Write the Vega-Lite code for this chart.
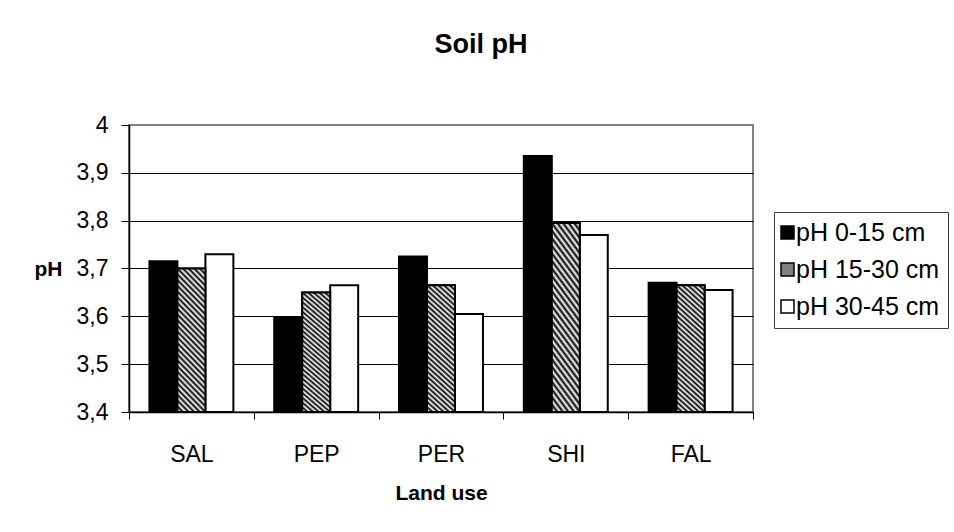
{
  "$schema": "https://vega.github.io/schema/vega-lite/v6.json",
  "autosize": {"type": "none"},
  "width": 624,
  "height": 287,
  "padding": {"left": 129, "top": 125, "right": 201, "bottom": 120},
  "background": "#ffffff",
  "title": {
    "text": "Soil pH",
    "anchor": "middle",
    "frame": "group",
    "dx": 40,
    "offset": 55,
    "font": "Liberation Sans",
    "fontSize": 27,
    "fontWeight": "bold",
    "color": "#000000"
  },
  "data": {
    "values": [
      {"landuse": "SAL", "depth": "pH 0-15 cm", "ph": 3.715},
      {"landuse": "SAL", "depth": "pH 15-30 cm", "ph": 3.70},
      {"landuse": "SAL", "depth": "pH 30-45 cm", "ph": 3.73},
      {"landuse": "PEP", "depth": "pH 0-15 cm", "ph": 3.597},
      {"landuse": "PEP", "depth": "pH 15-30 cm", "ph": 3.65},
      {"landuse": "PEP", "depth": "pH 30-45 cm", "ph": 3.665},
      {"landuse": "PER", "depth": "pH 0-15 cm", "ph": 3.725},
      {"landuse": "PER", "depth": "pH 15-30 cm", "ph": 3.665},
      {"landuse": "PER", "depth": "pH 30-45 cm", "ph": 3.605},
      {"landuse": "SHI", "depth": "pH 0-15 cm", "ph": 3.935},
      {"landuse": "SHI", "depth": "pH 15-30 cm", "ph": 3.795},
      {"landuse": "SHI", "depth": "pH 30-45 cm", "ph": 3.77},
      {"landuse": "FAL", "depth": "pH 0-15 cm", "ph": 3.67},
      {"landuse": "FAL", "depth": "pH 15-30 cm", "ph": 3.665},
      {"landuse": "FAL", "depth": "pH 30-45 cm", "ph": 3.655}
    ]
  },
  "encoding": {
    "x": {
      "field": "landuse",
      "type": "nominal",
      "sort": ["SAL", "PEP", "PER", "SHI", "FAL"],
      "scale": {"paddingInner": 0, "paddingOuter": 0},
      "axis": {
        "title": "Land use",
        "labelAngle": 0,
        "tickBand": "extent",
        "domainColor": "#000000",
        "domainWidth": 1.5,
        "tickColor": "#000000",
        "tickWidth": 1,
        "tickSize": 7,
        "labelPadding": 24,
        "labelFont": "Liberation Sans",
        "labelFontSize": 23,
        "labelColor": "#000000",
        "titleFont": "Liberation Sans",
        "titleFontSize": 21,
        "titleFontWeight": "bold",
        "titleColor": "#000000",
        "titleBaseline": "top",
        "titleY": 70
      }
    },
    "xOffset": {
      "field": "depth",
      "type": "nominal",
      "sort": ["pH 0-15 cm", "pH 15-30 cm", "pH 30-45 cm"],
      "scale": {"paddingInner": 0, "paddingOuter": 0.73}
    },
    "y": {
      "field": "ph",
      "type": "quantitative",
      "scale": {"domain": [3.4, 4], "nice": false, "zero": false},
      "axis": {
        "title": "pH",
        "values": [3.4, 3.5, 3.6, 3.7, 3.8, 3.9, 4],
        "format": ".2~f",
        "labelExpr": "replace(datum.label, '.', ',')",
        "grid": true,
        "gridColor": {"condition": {"test": "datum.value >= 4", "value": "#808080"}, "value": "#000000"},
        "gridWidth": 1,
        "domainColor": "#000000",
        "domainWidth": 1.5,
        "tickColor": "#000000",
        "tickSize": 8,
        "labelPadding": 13,
        "labelFont": "Liberation Sans",
        "labelFontSize": 23,
        "labelColor": "#000000",
        "titleFont": "Liberation Sans",
        "titleFontSize": 21,
        "titleFontWeight": "bold",
        "titleColor": "#000000",
        "titleAngle": 0,
        "titleAlign": "right",
        "titleBaseline": "middle",
        "titleX": -67,
        "titleY": 144
      }
    },
    "y2": {"datum": 3.4}
  },
  "layer": [
    {
      "mark": {"type": "bar", "strokeWidth": 2},
      "encoding": {
        "fill": {
          "field": "depth",
          "type": "nominal",
          "scale": {
            "domain": ["pH 0-15 cm", "pH 15-30 cm", "pH 30-45 cm"],
            "range": ["#000000", "#808080", "#ffffff"]
          },
          "legend": {
            "title": null,
            "orient": "none",
            "legendX": 645,
            "legendY": 87,
            "padding": 8,
            "strokeColor": "#404040",
            "fillColor": "#ffffff",
            "symbolType": "square",
            "symbolSize": 169,
            "symbolStrokeWidth": 1.5,
            "symbolOpacity": 1,
            "symbolOffset": -7,
            "labelFont": "Liberation Sans",
            "labelFontSize": 25,
            "labelColor": "#000000",
            "labelOffset": -4,
            "rowPadding": 11
          }
        },
        "stroke": {
          "field": "depth",
          "type": "nominal",
          "scale": {
            "domain": ["pH 0-15 cm", "pH 15-30 cm", "pH 30-45 cm"],
            "range": ["#000000", "#000000", "#000000"]
          },
          "legend": {
            "title": null,
            "orient": "none",
            "legendX": 645,
            "legendY": 87,
            "padding": 8,
            "strokeColor": "#404040",
            "fillColor": "#ffffff",
            "symbolType": "square",
            "symbolSize": 169,
            "symbolStrokeWidth": 1.5,
            "symbolOpacity": 1,
            "symbolOffset": -7,
            "labelFont": "Liberation Sans",
            "labelFontSize": 25,
            "labelColor": "#000000",
            "labelOffset": -4,
            "rowPadding": 11
          }
        }
      }
    },
    {
      "transform": [{"filter": "datum.depth === 'pH 15-30 cm'"}],
      "mark": {
        "type": "bar",
        "stroke": "#000000",
        "strokeWidth": 2,
        "fill": {
          "gradient": "linear",
          "x1": 0, "y1": 1, "x2": 0.2308, "y2": -0.154,
          "stops": [
            {"offset": 0, "color": "#000000"}, {"offset": 0.0167, "color": "#ffffff"},
            {"offset": 0.0333, "color": "#000000"}, {"offset": 0.05, "color": "#ffffff"},
            {"offset": 0.0667, "color": "#000000"}, {"offset": 0.0833, "color": "#ffffff"},
            {"offset": 0.1, "color": "#000000"}, {"offset": 0.1167, "color": "#ffffff"},
            {"offset": 0.1333, "color": "#000000"}, {"offset": 0.15, "color": "#ffffff"},
            {"offset": 0.1667, "color": "#000000"}, {"offset": 0.1833, "color": "#ffffff"},
            {"offset": 0.2, "color": "#000000"}, {"offset": 0.2167, "color": "#ffffff"},
            {"offset": 0.2333, "color": "#000000"}, {"offset": 0.25, "color": "#ffffff"},
            {"offset": 0.2667, "color": "#000000"}, {"offset": 0.2833, "color": "#ffffff"},
            {"offset": 0.3, "color": "#000000"}, {"offset": 0.3167, "color": "#ffffff"},
            {"offset": 0.3333, "color": "#000000"}, {"offset": 0.35, "color": "#ffffff"},
            {"offset": 0.3667, "color": "#000000"}, {"offset": 0.3833, "color": "#ffffff"},
            {"offset": 0.4, "color": "#000000"}, {"offset": 0.4167, "color": "#ffffff"},
            {"offset": 0.4333, "color": "#000000"}, {"offset": 0.45, "color": "#ffffff"},
            {"offset": 0.4667, "color": "#000000"}, {"offset": 0.4833, "color": "#ffffff"},
            {"offset": 0.5, "color": "#000000"}, {"offset": 0.5167, "color": "#ffffff"},
            {"offset": 0.5333, "color": "#000000"}, {"offset": 0.55, "color": "#ffffff"},
            {"offset": 0.5667, "color": "#000000"}, {"offset": 0.5833, "color": "#ffffff"},
            {"offset": 0.6, "color": "#000000"}, {"offset": 0.6167, "color": "#ffffff"},
            {"offset": 0.6333, "color": "#000000"}, {"offset": 0.65, "color": "#ffffff"},
            {"offset": 0.6667, "color": "#000000"}, {"offset": 0.6833, "color": "#ffffff"},
            {"offset": 0.7, "color": "#000000"}, {"offset": 0.7167, "color": "#ffffff"},
            {"offset": 0.7333, "color": "#000000"}, {"offset": 0.75, "color": "#ffffff"},
            {"offset": 0.7667, "color": "#000000"}, {"offset": 0.7833, "color": "#ffffff"},
            {"offset": 0.8, "color": "#000000"}, {"offset": 0.8167, "color": "#ffffff"},
            {"offset": 0.8333, "color": "#000000"}, {"offset": 0.85, "color": "#ffffff"},
            {"offset": 0.8667, "color": "#000000"}, {"offset": 0.8833, "color": "#ffffff"},
            {"offset": 0.9, "color": "#000000"}, {"offset": 0.9167, "color": "#ffffff"},
            {"offset": 0.9333, "color": "#000000"}, {"offset": 0.95, "color": "#ffffff"},
            {"offset": 0.9667, "color": "#000000"}, {"offset": 0.9833, "color": "#ffffff"},
            {"offset": 1, "color": "#000000"}
          ]
        }
      }
    }
  ],
  "config": {
    "view": {"stroke": "#808080", "strokeWidth": 2}
  }
}
